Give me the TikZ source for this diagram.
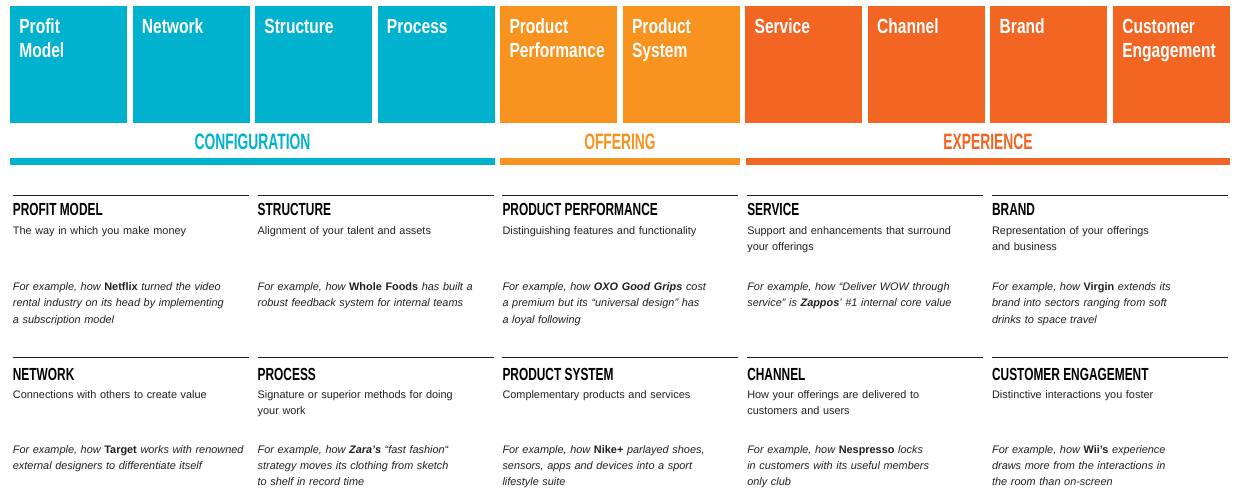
\documentclass[tikz,border=0pt]{standalone}
\usepackage{fontspec}
\setmainfont{Liberation Sans}
\newfontfamily\tilefont[FakeStretch=0.76]{Liberation Sans}
\newfontfamily\catfont[FakeStretch=0.62]{Liberation Sans}
\newfontfamily\headfont[FakeStretch=0.68]{Liberation Sans}
\usetikzlibrary{positioning}
\definecolor{cfgblue}{HTML}{00B2CD}
\definecolor{offorange}{HTML}{F7931E}
\definecolor{exporange}{HTML}{F26522}
\definecolor{inkdark}{HTML}{231F20}

\begin{document}
\begin{tikzpicture}[
      x=1pt, y=-1pt,
      tile/.style={anchor=north west, inner xsep=9.3pt, inner ysep=0pt,
                   outer sep=0pt,
                   text width=98.4pt, text height=28pt, text depth=89pt,
                   align=left, text=white,
                   font=\tilefont\bfseries\fontsize{20.5}{24}\selectfont},
      bar/.style={inner sep=0pt, outer sep=0pt, minimum height=7pt},
      catlabel/.style={inner sep=0pt, outer sep=0pt,
                       font=\catfont\bfseries\fontsize{22.3}{26}\selectfont},
      cellrule/.style={draw=inkdark, line width=1.2pt},
      cellhead/.style={anchor=base west, inner sep=0pt, text=black,
                       font=\headfont\bfseries\fontsize{17.5}{20}\selectfont},
      celldesc/.style={anchor=base west, inner sep=0pt, text width=236pt,
                       align=left, text=inkdark,
                       font=\fontsize{10.9}{16.3}\selectfont},
      cellex/.style={celldesc, font=\itshape\fontsize{10.9}{16.2}\selectfont}
    ]
    \fill[white] (0,0) rectangle (1239,502);
    \useasboundingbox (0,0) rectangle (1239,502);

    % Tiles
    \node[tile, fill=cfgblue] (pmTile) at (10,6) {Profit\\Model};
    \node[tile, fill=cfgblue, right=5.55pt of pmTile] (nwTile) {Network};
    \node[tile, fill=cfgblue, right=5.55pt of nwTile] (stTile) {Structure};
    \node[tile, fill=cfgblue, right=5.55pt of stTile] (prTile) {Process};
    \node[tile, fill=offorange, right=5.55pt of prTile] (ppTile) {Product\\Performance};
    \node[tile, fill=offorange, right=5.55pt of ppTile] (psTile) {Product\\System};
    \node[tile, fill=exporange, right=5.55pt of psTile] (svTile) {Service};
    \node[tile, fill=exporange, right=5.55pt of svTile] (chTile) {Channel};
    \node[tile, fill=exporange, right=5.55pt of chTile] (brTile) {Brand};
    \node[tile, fill=exporange, right=5.55pt of brTile] (ceTile) {Customer\\Engagement};

    % Category bars
    \node[bar, fill=cfgblue, minimum width=485pt] (cfgBar) at (252.5,161.5) {};
    \node[bar, fill=offorange, minimum width=240pt] (offBar) at (620,161.5) {};
    \node[bar, fill=exporange, minimum width=484pt] (expBar) at (988,161.5) {};
    \node[catlabel, text=cfgblue, above=8.7pt of cfgBar] (cfgLabel) {CONFIGURATION};
    \node[catlabel, text=offorange, above=8.7pt of offBar] (offLabel) {OFFERING};
    \node[catlabel, text=exporange, above=8.7pt of expBar] (expLabel) {EXPERIENCE};

    % Row 1
    \draw[cellrule] (12.7,195.3) -- ++(236,0);
    \node[cellhead] (pmHead) at (12.7,215.7) {PROFIT MODEL};
    \node[celldesc] (pmDesc) at (12.7,234.3) {The way in which you make money};
    \node[cellex] (pmEx) at (12.7,290.7) {For example, how \textbf{\upshape Netflix} turned the video\\rental industry on its head by implementing\\a subscription model};

    \draw[cellrule] (257.5,195.3) -- ++(236,0);
    \node[cellhead] (stHead) at (257.5,215.7) {STRUCTURE};
    \node[celldesc] (stDesc) at (257.5,234.3) {Alignment of your talent and assets};
    \node[cellex] (stEx) at (257.5,290.7) {For example, how \textbf{\upshape Whole Foods} has built a\\robust feedback system for internal teams};

    \draw[cellrule] (502.3,195.3) -- ++(236,0);
    \node[cellhead] (ppHead) at (502.3,215.7) {PRODUCT PERFORMANCE};
    \node[celldesc] (ppDesc) at (502.3,234.3) {Distinguishing features and functionality};
    \node[cellex] (ppEx) at (502.3,290.7) {For example, how \textbf{OXO Good Grips} cost\\a premium but its “universal design” has\\a loyal following};

    \draw[cellrule] (747.1,195.3) -- ++(236,0);
    \node[cellhead] (svHead) at (747.1,215.7) {SERVICE};
    \node[celldesc] (svDesc) at (747.1,234.3) {Support and enhancements that surround\\your offerings};
    \node[cellex] (svEx) at (747.1,290.7) {For example, how “Deliver WOW through\\service” is \textbf{Zappos}’ \#1 internal core value};

    \draw[cellrule] (991.9,195.3) -- ++(236,0);
    \node[cellhead] (brHead) at (991.9,215.7) {BRAND};
    \node[celldesc] (brDesc) at (991.9,234.3) {Representation of your offerings\\and business};
    \node[cellex] (brEx) at (991.9,290.7) {For example, how \textbf{\upshape Virgin} extends its\\brand into sectors ranging from soft\\drinks to space travel};

    % Row 2
    \draw[cellrule] (12.7,357.3) -- ++(236,0);
    \node[cellhead] (nwHead) at (12.7,380) {NETWORK};
    \node[celldesc] (nwDesc) at (12.7,398.3) {Connections with others to create value};
    \node[cellex] (nwEx) at (12.7,453.3) {For example, how \textbf{\upshape Target} works with renowned\\external designers to differentiate itself};

    \draw[cellrule] (257.5,357.3) -- ++(236,0);
    \node[cellhead] (prHead) at (257.5,380) {PROCESS};
    \node[celldesc] (prDesc) at (257.5,398.3) {Signature or superior methods for doing\\your work};
    \node[cellex] (prEx) at (257.5,453.3) {For example, how \textbf{Zara’s} “fast fashion“\\strategy moves its clothing from sketch\\to shelf in record time};

    \draw[cellrule] (502.3,357.3) -- ++(236,0);
    \node[cellhead] (psHead) at (502.3,380) {PRODUCT SYSTEM};
    \node[celldesc] (psDesc) at (502.3,398.3) {Complementary products and services};
    \node[cellex] (psEx) at (502.3,453.3) {For example, how \textbf{\upshape Nike+} parlayed shoes,\\sensors, apps and devices into a sport\\lifestyle suite};

    \draw[cellrule] (747.1,357.3) -- ++(236,0);
    \node[cellhead] (chHead) at (747.1,380) {CHANNEL};
    \node[celldesc] (chDesc) at (747.1,398.3) {How your offerings are delivered to\\customers and users};
    \node[cellex] (chEx) at (747.1,453.3) {For example, how \textbf{\upshape Nespresso} locks\\in customers with its useful members\\only club};

    \draw[cellrule] (991.9,357.3) -- ++(236,0);
    \node[cellhead] (ceHead) at (991.9,380) {CUSTOMER ENGAGEMENT};
    \node[celldesc] (ceDesc) at (991.9,398.3) {Distinctive interactions you foster};
    \node[cellex] (ceEx) at (991.9,453.3) {For example, how \textbf{\upshape Wii’s} experience\\draws more from the interactions in\\the room than on-screen};
  \end{tikzpicture}
\end{document}
